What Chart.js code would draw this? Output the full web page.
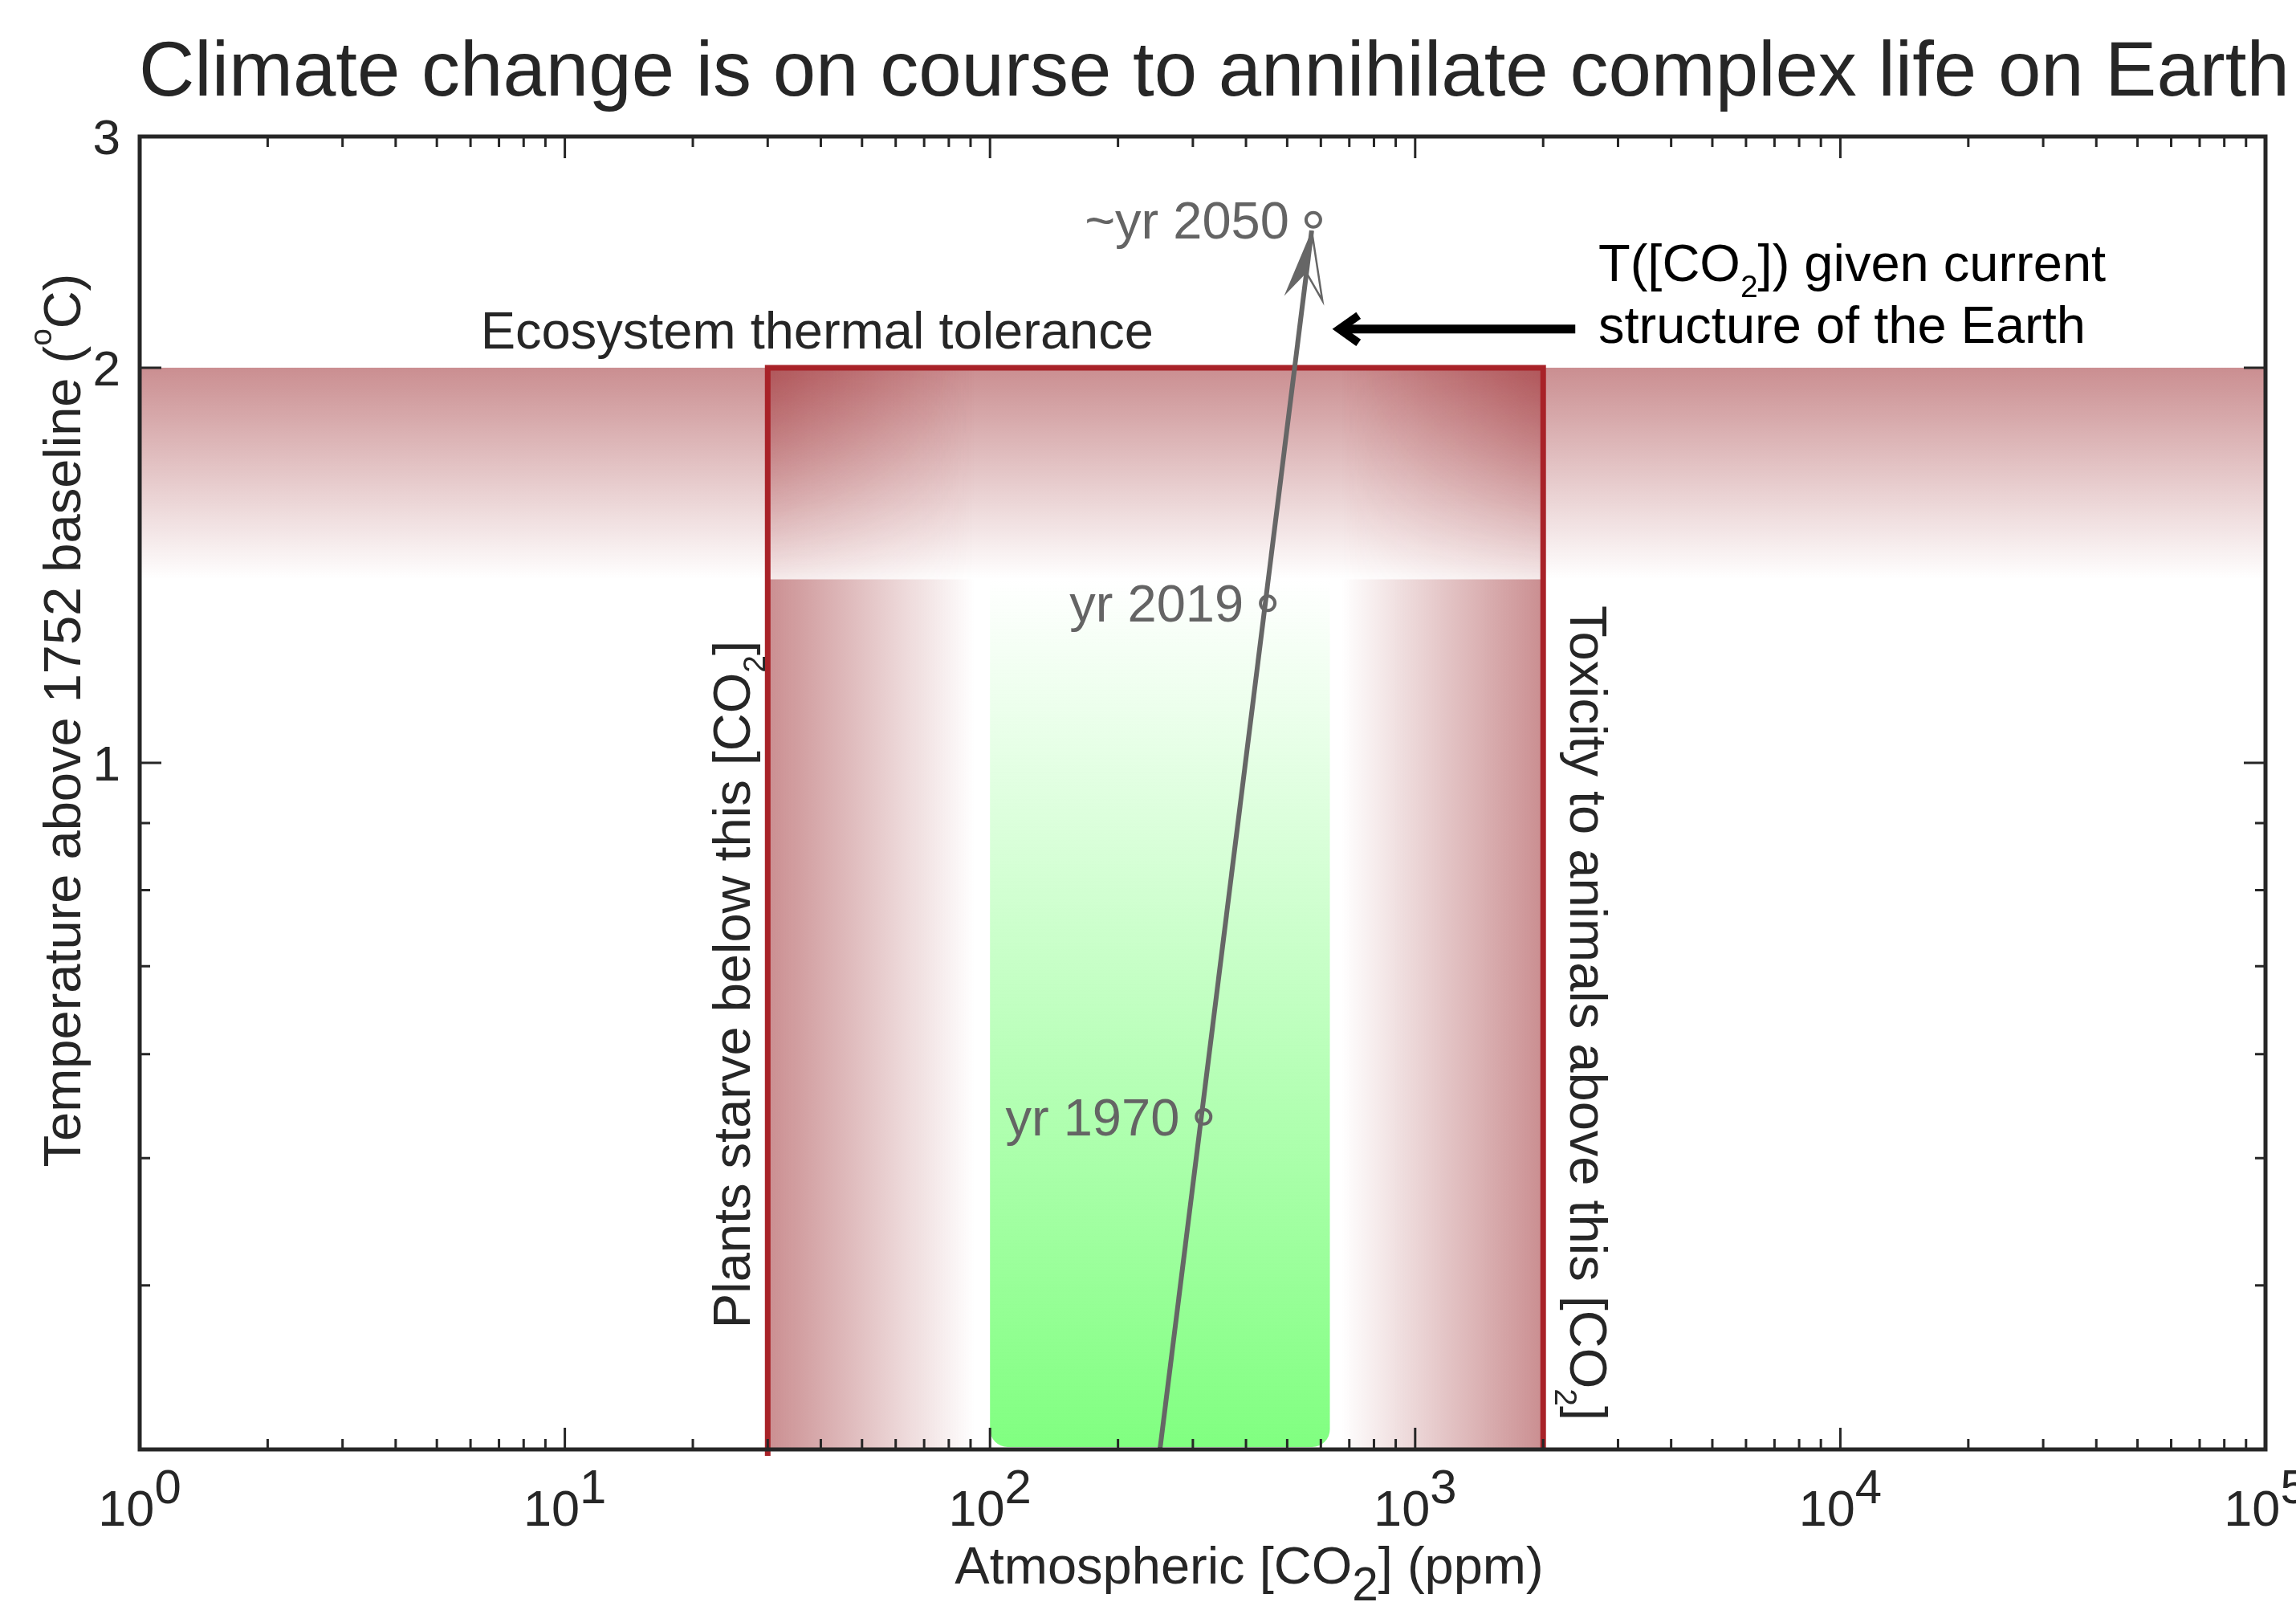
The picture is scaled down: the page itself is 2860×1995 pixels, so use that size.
<!DOCTYPE html>
<html lang="en">
<head>
<meta charset="UTF-8">
<title>Climate change and atmospheric CO2</title>
<script src="https://cdn.jsdelivr.net/npm/chart.js"></script>
<style>
  html, body { margin: 0; padding: 0; background: #fff; }
  #wrap { width: 2860px; height: 1995px; }
</style>
</head>
<body>
<div id="wrap"><canvas id="climateChart"></canvas></div>
<script>
// axis ranges: CO2 in ppm, temperature in deg C above 1752
const co2Range = [1, 100000];
const tempRange = [0.3, 3];
const co2Decades = [1, 10, 100, 1000, 10000, 100000];
const co2Exponents = ['0', '1', '2', '3', '4', '5'];
const tempMajor = [1, 2, 3];
const tempLabels = ['1', '2', '3'];
const tempMinor = [0.4, 0.5, 0.6, 0.7, 0.8, 0.9];

// T([CO2]) trajectory and the marked years
const trajCo2 = [251, 571];
const trajTemp = [0.3, 2.544];
const yearNames = ['yr 1970', 'yr 2019', '~yr 2050'];
const yearCo2 = [318, 450, 576];
const yearTemp = [0.5376, 1.323, 2.592];

// limits of the habitable window
const starveCo2 = 30;
const toxicCo2 = 2000;
const toleranceTemp = 2;
const toleranceFadeTemp = 1.38;
const starveFadeCo2 = 92;
const toxicFadeCo2 = 670;
const greenCo2 = [100, 630];

const FONT = "'Liberation Sans', Arial, Helvetica, sans-serif";
const RED = 'rgba(150,30,35,';
const INK = '#262626';
const LABEL = 65;

// parts: [text, size factor, vertical shift in em]
function richText(ctx, parts, x, y, size, color, align) {
    ctx.save();
    ctx.fillStyle = color;
    ctx.textAlign = 'left';
    ctx.textBaseline = 'alphabetic';
    let total = 0;
    const widths = parts.map(function(p) {
        ctx.font = (size * p[1]) + 'px ' + FONT;
        const w = ctx.measureText(p[0]).width;
        total += w;
        return w;
    });
    let cx = align === 'center' ? x - total / 2 : (align === 'right' ? x - total : x);
    parts.forEach(function(p, i) {
        ctx.font = (size * p[1]) + 'px ' + FONT;
        ctx.fillText(p[0], cx, y + p[2] * size);
        cx += widths[i];
    });
    ctx.restore();
}

function rotatedText(ctx, parts, x, y, angle, size, color) {
    ctx.save();
    ctx.translate(x, y);
    ctx.rotate(angle);
    richText(ctx, parts, 0, 0, size, color, 'center');
    ctx.restore();
}

// 2D fade for the box corners inside the tolerance band
function cornerFade(ctx, x0, x1, y0, y1, darkLeft) {
    const w = Math.max(1, Math.round(x1 - x0)), h = Math.max(1, Math.round(y1 - y0));
    const off = document.createElement('canvas');
    off.width = w; off.height = h;
    const o = off.getContext('2d');
    let g = o.createLinearGradient(0, 0, w, 0);
    g.addColorStop(darkLeft ? 0 : 1, RED + '0.5)');
    g.addColorStop(darkLeft ? 1 : 0, RED + '0)');
    o.fillStyle = g;
    o.fillRect(0, 0, w, h);
    o.globalCompositeOperation = 'destination-in';
    g = o.createLinearGradient(0, 0, 0, h);
    g.addColorStop(0, 'rgba(0,0,0,1)');
    g.addColorStop(1, 'rgba(0,0,0,0.2)');
    o.fillStyle = g;
    o.fillRect(0, 0, w, h);
    ctx.drawImage(off, x0, y0);
}

const decorPlugin = {
    id: 'decor',
    beforeDatasetsDraw(chart) {
        const ctx = chart.ctx, a = chart.chartArea, x = chart.scales.x, y = chart.scales.y;
        const yTop = y.getPixelForValue(toleranceTemp);
        const yFade = y.getPixelForValue(toleranceFadeTemp);
        const yBot = a.bottom;
        const xL = x.getPixelForValue(starveCo2), xR = x.getPixelForValue(toxicCo2);
        const xLf = x.getPixelForValue(starveFadeCo2), xRf = x.getPixelForValue(toxicFadeCo2);
        ctx.save();

        // green window
        const gx0 = x.getPixelForValue(greenCo2[0]), gx1 = x.getPixelForValue(greenCo2[1]);
        let g = ctx.createLinearGradient(0, yFade, 0, yBot);
        g.addColorStop(0, 'rgba(128,255,128,0)');
        g.addColorStop(1, 'rgba(128,255,128,1)');
        ctx.fillStyle = g;
        ctx.beginPath();
        ctx.roundRect(gx0, yFade, gx1 - gx0, yBot - yFade - 3, [0, 0, 22, 22]);
        ctx.fill();

        // starvation and toxicity bands
        g = ctx.createLinearGradient(xL, 0, xLf, 0);
        g.addColorStop(0, RED + '0.5)');
        g.addColorStop(1, RED + '0)');
        ctx.fillStyle = g;
        ctx.fillRect(xL, yFade, xLf - xL, yBot - yFade);
        g = ctx.createLinearGradient(xRf, 0, xR, 0);
        g.addColorStop(0, RED + '0)');
        g.addColorStop(1, RED + '0.5)');
        ctx.fillStyle = g;
        ctx.fillRect(xRf, yFade, xR - xRf, yBot - yFade);

        // thermal tolerance band
        g = ctx.createLinearGradient(0, yTop, 0, yFade);
        g.addColorStop(0, RED + '0.5)');
        g.addColorStop(1, RED + '0)');
        ctx.fillStyle = g;
        ctx.fillRect(a.left, yTop, a.right - a.left, yFade - yTop);
        cornerFade(ctx, xL, xLf, yTop, yFade, true);
        cornerFade(ctx, xRf, xR, yTop, yFade, false);

        // box outline
        ctx.strokeStyle = '#a82228';
        ctx.lineWidth = 7;
        ctx.lineJoin = 'miter';
        ctx.beginPath();
        ctx.moveTo(xL, yBot + 8);
        ctx.lineTo(xL, yTop);
        ctx.lineTo(xR, yTop);
        ctx.lineTo(xR, yBot);
        ctx.stroke();
        ctx.restore();

        // texts inside the plot
        richText(ctx, [['Ecosystem thermal tolerance', 1, 0]],
            x.getPixelForValue(39.2), y.getPixelForValue(2.068), LABEL, INK, 'center');
        rotatedText(ctx, [['Plants starve below this [CO', 1, 0], ['2', 0.6, 0.3], [']', 1, 0]],
            x.getPixelForValue(27.2), y.getPixelForValue(0.678), -Math.PI / 2, LABEL, INK);
        rotatedText(ctx, [['Toxicity to animals above this [CO', 1, 0], ['2', 0.6, 0.3], [']', 1, 0]],
            x.getPixelForValue(2317), y.getPixelForValue(0.645), Math.PI / 2, LABEL, INK);
        const tx = x.getPixelForValue(2697);
        richText(ctx, [['T([CO', 1, 0], ['2', 0.6, 0.3], [']) given current', 1, 0]],
            tx, y.getPixelForValue(2.328), LABEL, '#000', 'left');
        richText(ctx, [['structure of the Earth', 1, 0]],
            tx, y.getPixelForValue(2.089), LABEL, '#000', 'left');

        // black pointer arrow
        const ay = y.getPixelForValue(2.14);
        const aTip = x.getPixelForValue(643), aTail = x.getPixelForValue(2380);
        ctx.save();
        ctx.strokeStyle = '#000';
        ctx.lineWidth = 11;
        ctx.beginPath();
        ctx.moveTo(aTail, ay);
        ctx.lineTo(aTip + 8, ay);
        ctx.stroke();
        ctx.lineWidth = 10;
        ctx.lineJoin = 'miter';
        ctx.beginPath();
        ctx.moveTo(aTip + 31, ay - 17);
        ctx.lineTo(aTip + 7, ay);
        ctx.lineTo(aTip + 31, ay + 17);
        ctx.stroke();
        ctx.restore();
    },
    afterDatasetsDraw(chart) {
        const ctx = chart.ctx, x = chart.scales.x, y = chart.scales.y;
        // gray arrow head at the end of the trajectory
        const x0 = x.getPixelForValue(trajCo2[0]), y0 = y.getPixelForValue(trajTemp[0]);
        const x1 = x.getPixelForValue(trajCo2[1]), y1 = y.getPixelForValue(trajTemp[1]);
        const len = Math.hypot(x1 - x0, y1 - y0);
        const dx = (x1 - x0) / len, dy = (y1 - y0) / len;
        const lx = dy, ly = -dx;
        const headLen = 85, half = 24, notch = 53;
        const bx = x1 - dx * headLen, by = y1 - dy * headLen;
        const nx = x1 - dx * notch, ny = y1 - dy * notch;
        ctx.save();
        ctx.fillStyle = '#666';
        ctx.strokeStyle = '#666';
        ctx.lineWidth = 2.5;
        ctx.beginPath();
        ctx.moveTo(x1, y1);
        ctx.lineTo(bx + lx * half, by + ly * half);
        ctx.lineTo(nx, ny);
        ctx.closePath();
        ctx.fill();
        ctx.beginPath();
        ctx.moveTo(x1, y1);
        ctx.lineTo(bx - lx * half, by - ly * half);
        ctx.lineTo(nx, ny);
        ctx.stroke();
        ctx.restore();

        // year labels
        yearNames.forEach(function(name, i) {
            const px = x.getPixelForValue(yearCo2[i]), py = y.getPixelForValue(yearTemp[i]);
            richText(ctx, [[name, 1, 0]], px - 30, py + 23, LABEL, '#646464', 'right');
        });
    },
    afterDraw(chart) {
        const ctx = chart.ctx, a = chart.chartArea, x = chart.scales.x, y = chart.scales.y;
        ctx.save();
        ctx.strokeStyle = INK;
        ctx.lineWidth = 3;
        // x ticks, top and bottom, pointing inwards
        co2Decades.forEach(function(d) {
            const px = x.getPixelForValue(d);
            ctx.beginPath();
            ctx.moveTo(px, a.bottom); ctx.lineTo(px, a.bottom - 27);
            ctx.moveTo(px, a.top); ctx.lineTo(px, a.top + 27);
            ctx.stroke();
            if (d < co2Range[1]) {
                for (let k = 2; k <= 9; k++) {
                    const pm = x.getPixelForValue(d * k);
                    ctx.beginPath();
                    ctx.moveTo(pm, a.bottom); ctx.lineTo(pm, a.bottom - 13);
                    ctx.moveTo(pm, a.top); ctx.lineTo(pm, a.top + 13);
                    ctx.stroke();
                }
            }
        });
        // y ticks, left and right
        tempMajor.forEach(function(t) {
            const py = y.getPixelForValue(t);
            ctx.beginPath();
            ctx.moveTo(a.left, py); ctx.lineTo(a.left + 27, py);
            ctx.moveTo(a.right, py); ctx.lineTo(a.right - 27, py);
            ctx.stroke();
        });
        tempMinor.forEach(function(t) {
            const py = y.getPixelForValue(t);
            ctx.beginPath();
            ctx.moveTo(a.left, py); ctx.lineTo(a.left + 13, py);
            ctx.moveTo(a.right, py); ctx.lineTo(a.right - 13, py);
            ctx.stroke();
        });
        // frame
        ctx.lineWidth = 5;
        ctx.strokeRect(a.left, a.top, a.right - a.left, a.bottom - a.top);
        ctx.restore();

        // tick labels
        co2Decades.forEach(function(d, i) {
            richText(ctx, [['10', 1, 0], [co2Exponents[i], 0.95, -0.44]],
                x.getPixelForValue(d), a.bottom + 95, 63, INK, 'center');
        });
        tempMajor.forEach(function(t, i) {
            richText(ctx, [[tempLabels[i], 1, 0]], a.left - 24, y.getPixelForValue(t) + 22, 62, INK, 'right');
        });

        // axis titles
        richText(ctx, [['Atmospheric [CO', 1, 0], ['2', 0.9, 0.33], ['] (ppm)', 1, 0]],
            1556, 1972, LABEL, INK, 'center');
        rotatedText(ctx, [['Temperature above 1752 baseline (', 1, 0], ['o', 0.6, -0.55], ['C)', 1, 0]],
            100, 897, -Math.PI / 2, LABEL, INK);

        // title
        richText(ctx, [['Climate change is on course to annihilate complex life on Earth', 1, 0]],
            173, 119, 96, INK, 'left');
    }
};

const ctx = document.getElementById('climateChart').getContext('2d');
const climateChart = new Chart(ctx, {
    type: 'scatter',
    data: {
        datasets: [{
            label: 'T([CO2])',
            data: trajCo2.map(function(c, i) { return { x: c, y: trajTemp[i] }; }),
            showLine: true,
            borderColor: '#666',
            borderWidth: 6,
            pointRadius: 0,
            order: 2
        }, {
            label: 'years',
            data: yearCo2.map(function(c, i) { return { x: c, y: yearTemp[i] }; }),
            pointRadius: 9,
            pointBorderWidth: 4,
            pointBorderColor: '#666',
            pointBackgroundColor: 'rgba(255,255,255,0)',
            order: 1
        }]
    },
    options: {
        responsive: true,
        maintainAspectRatio: false,
        animation: false,
        devicePixelRatio: 1,
        layout: { padding: { left: 174, right: 38, top: 170, bottom: 190 } },
        plugins: { legend: { display: false }, tooltip: { enabled: false } },
        scales: {
            x: { type: 'logarithmic', min: co2Range[0], max: co2Range[1], display: false },
            y: { type: 'logarithmic', min: tempRange[0], max: tempRange[1], display: false }
        }
    },
    plugins: [decorPlugin]
});
</script>
</body>
</html>
